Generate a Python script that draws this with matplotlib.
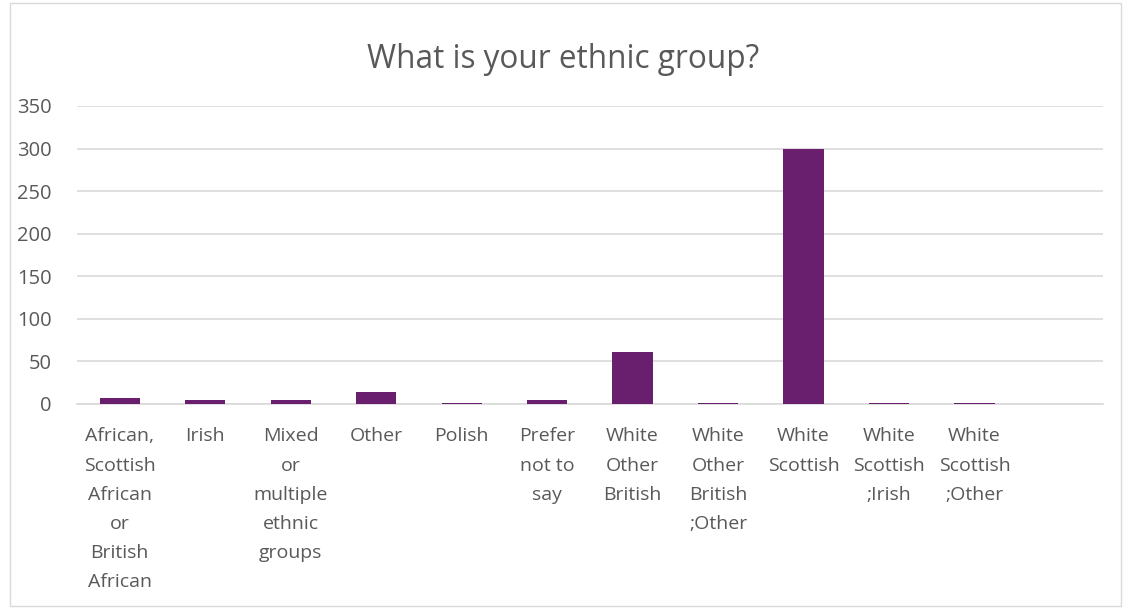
import matplotlib.pyplot as plt
from matplotlib.patches import Rectangle

# Survey responses per ethnic group
groups = [
    "African,\nScottish\nAfrican\nor\nBritish\nAfrican",
    "Irish",
    "Mixed\nor\nmultiple\nethnic\ngroups",
    "Other",
    "Polish",
    "Prefer\nnot to\nsay",
    "White\nOther\nBritish",
    "White\nOther\nBritish\n;Other",
    "White\nScottish",
    "White\nScottish\n;Irish",
    "White\nScottish\n;Other",
    "",
]
counts = [7, 5, 4, 14, 1, 4, 61, 1, 299, 1, 1, 0]
yticks = [0, 50, 100, 150, 200, 250, 300, 350]

plt.rcParams['font.family'] = ['Open Sans', 'DejaVu Sans']
text_col = "#595959"
grid_col = "#D9D9D9"

fig = plt.figure(figsize=(11.31, 6.09), dpi=100)
ax = fig.add_axes([0.068, 0.337, 0.907, 0.489])

ax.bar(range(len(groups)), counts, width=0.47, color="#6A1E6E", zorder=3)

ax.set_xlim(-0.5, len(groups) - 0.5)
ax.set_ylim(0, 350)
ax.set_yticks(yticks)
ax.set_yticklabels([str(t) for t in yticks], fontsize=14.5, color=text_col)
ax.set_xticks(range(len(groups)))
ax.set_xticklabels(groups, fontsize=14, color=text_col, linespacing=1.8, va="top")
ax.tick_params(length=0)
ax.tick_params(axis="y", pad=18)
ax.tick_params(axis="x", pad=17)
ax.grid(axis="y", color=grid_col, lw=1.2, zorder=0)
for s in ["top", "right", "left"]:
    ax.spines[s].set_visible(False)
ax.spines["bottom"].set_color(grid_col)
ax.spines["bottom"].set_linewidth(1.2)

fig.suptitle("What is your ethnic group?", x=0.498, y=0.93, fontsize=22.7, color=text_col)

# chart border
fig.patches.append(Rectangle((0.009, 0.005), 0.982, 0.99, transform=fig.transFigure,
                             fill=False, edgecolor="#D9D9D9", lw=1))

fig.savefig("out.png", dpi=100)
